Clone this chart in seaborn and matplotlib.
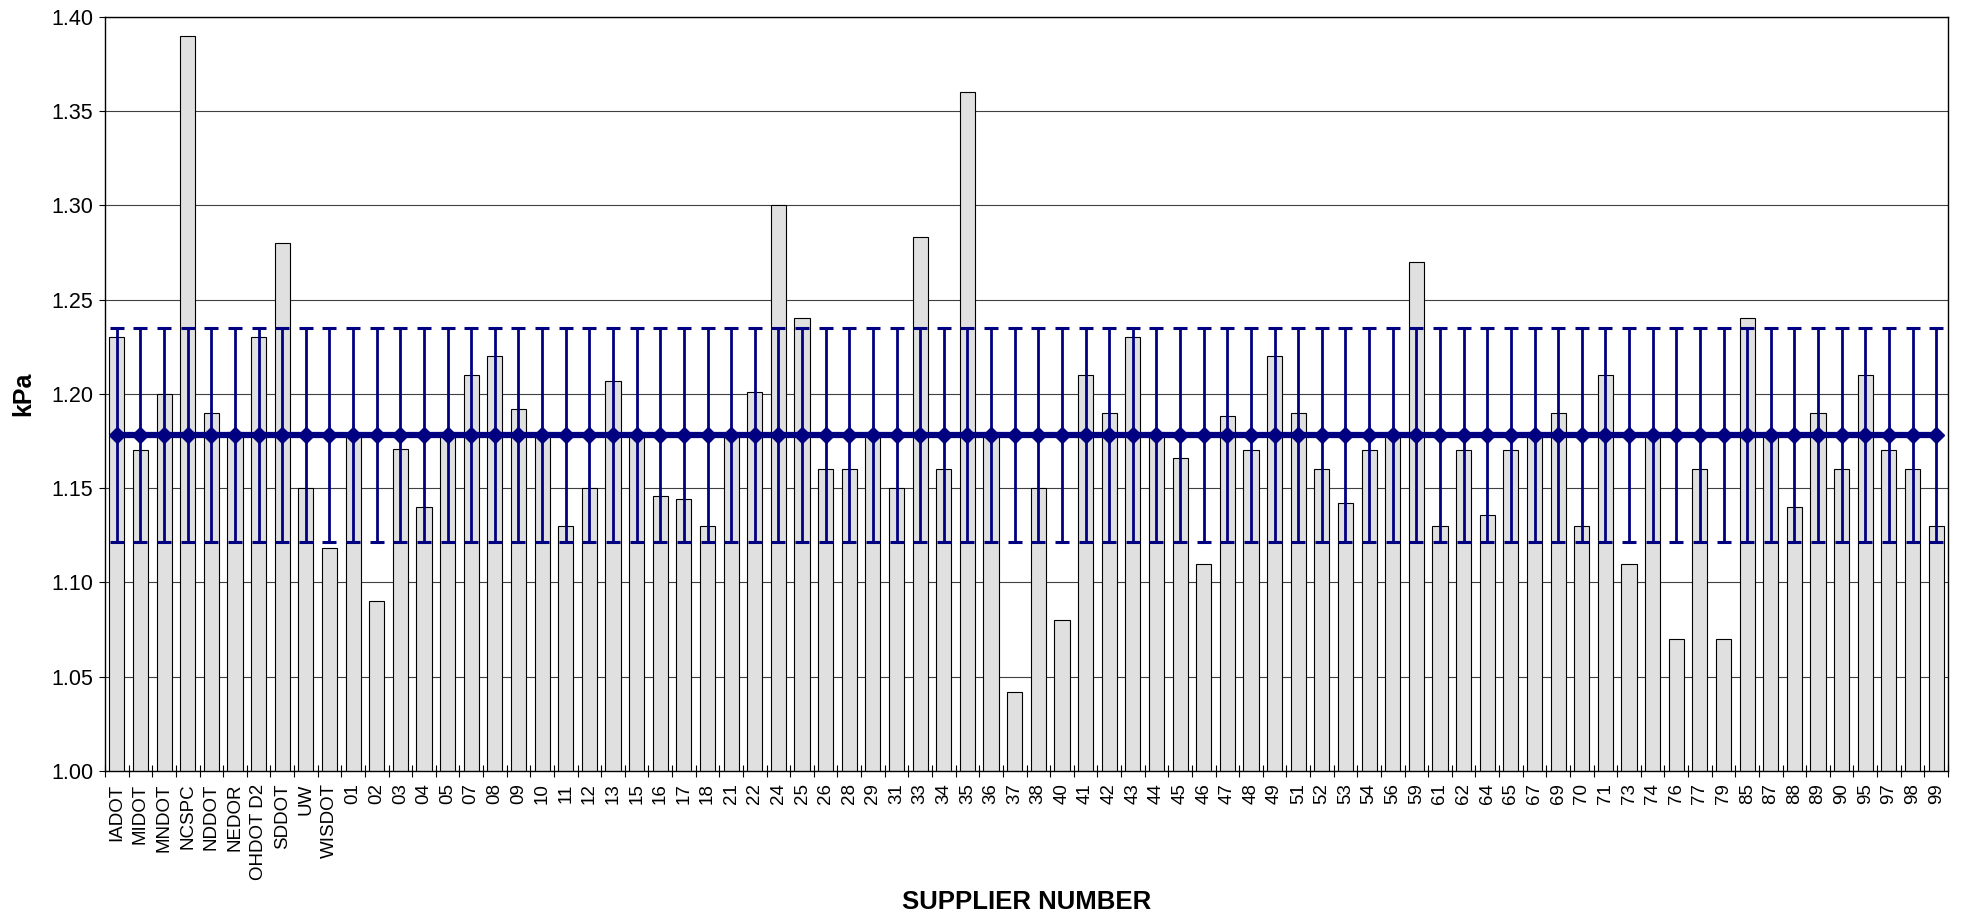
import matplotlib
matplotlib.use("Agg")
import matplotlib.pyplot as plt
from matplotlib.ticker import MultipleLocator, FixedLocator
import numpy as np
import pandas as pd
import seaborn as sns

# ─── DATA ─────────────────────────────────────────────────────────────────────
suppliers = [
    "IADOT", "MIDOT", "MNDOT", "NCSPC", "NDDOT", "NEDOR", "OHDOT D2", "SDDOT", "UW", "WISDOT",
    "01", "02", "03", "04", "05", "07", "08", "09", "10", "11", "12", "13", "15", "16", "17", "18",
    "21", "22", "24", "25", "26", "28", "29", "31", "33", "34", "35", "36", "37", "38", "40",
    "41", "42", "43", "44", "45", "46", "47", "48", "49", "51", "52", "53", "54", "56", "59",
    "61", "62", "64", "65", "67", "69", "70", "71", "73", "74", "76", "77", "79",
    "85", "87", "88", "89", "90", "95", "97", "98", "99",
]
kpa = [
    1.230, 1.170, 1.200, 1.390, 1.190, 1.180, 1.230, 1.280, 1.150, 1.118,
    1.178, 1.090, 1.171, 1.140, 1.180, 1.210, 1.220, 1.192, 1.180, 1.130, 1.150, 1.207, 1.180, 1.146, 1.144, 1.130,
    1.180, 1.201, 1.300, 1.240, 1.160, 1.160, 1.180, 1.150, 1.283, 1.160, 1.360, 1.180, 1.042, 1.150, 1.080,
    1.210, 1.190, 1.230, 1.180, 1.166, 1.110, 1.188, 1.170, 1.220, 1.190, 1.160, 1.142, 1.170, 1.180, 1.270,
    1.130, 1.170, 1.136, 1.170, 1.180, 1.190, 1.130, 1.210, 1.110, 1.180, 1.070, 1.160, 1.070,
    1.240, 1.180, 1.140, 1.190, 1.160, 1.210, 1.170, 1.160, 1.130,
]
grand_mean = 1.178
band_half = 0.0567

NAVY = "#000080"
BAR = "#E0E0E0"

df = pd.DataFrame({"supplier": suppliers, "kpa": kpa})

# ─── STYLE ────────────────────────────────────────────────────────────────────
sns.set_style("white")
plt.rcParams["font.family"] = ["Liberation Sans", "DejaVu Sans"]
plt.rcParams.update({"text.color": "black", "axes.labelcolor": "black",
                     "xtick.color": "black", "ytick.color": "black"})

fig = plt.figure(figsize=(19.68, 9.16), dpi=100)
ax = fig.add_axes([105 / 1968, 1 - 771 / 916, 1843 / 1968, (771 - 16.7) / 916])

sns.barplot(data=df, x="supplier", y="kpa", order=suppliers, color=BAR, saturation=1,
            edgecolor="black", linewidth=0.8, width=0.64, ax=ax, zorder=2)

xs = np.arange(len(suppliers))
ax.errorbar(xs, [grand_mean] * len(xs), yerr=band_half, fmt="-D", color=NAVY,
            lw=4.5, markersize=8.5, elinewidth=2, capsize=5, capthick=2.2, zorder=3)

ax.set_xlim(-0.5, len(suppliers) - 0.5)
ax.set_ylim(1.00, 1.40)
ax.yaxis.set_major_locator(MultipleLocator(0.05))
ax.yaxis.set_major_formatter(matplotlib.ticker.FormatStrFormatter("%.2f"))
ax.yaxis.grid(True, color="#404040", lw=0.8)
ax.set_axisbelow(True)

ax.tick_params(axis="y", direction="out", length=4.5, width=0.8, labelsize=15.5, pad=4, left=True)
ax.tick_params(axis="x", which="major", length=0, labelsize=13.5, pad=9, rotation=90)
ax.xaxis.set_minor_locator(FixedLocator(np.arange(-0.5, len(suppliers), 1.0)))
ax.tick_params(axis="x", which="minor", direction="inout", length=9, width=0.8, bottom=True)

for s in ax.spines.values():
    s.set_color("black")
    s.set_linewidth(1.0)

ax.set_ylabel("kPa", fontsize=18, fontweight="bold")
ax.set_xlabel("SUPPLIER NUMBER", fontsize=18.5, fontweight="bold")
ax.xaxis.set_label_coords(0.5, -0.158)
ax.yaxis.set_label_coords(-0.038, 0.5)

fig.savefig("out.png", dpi=100)
